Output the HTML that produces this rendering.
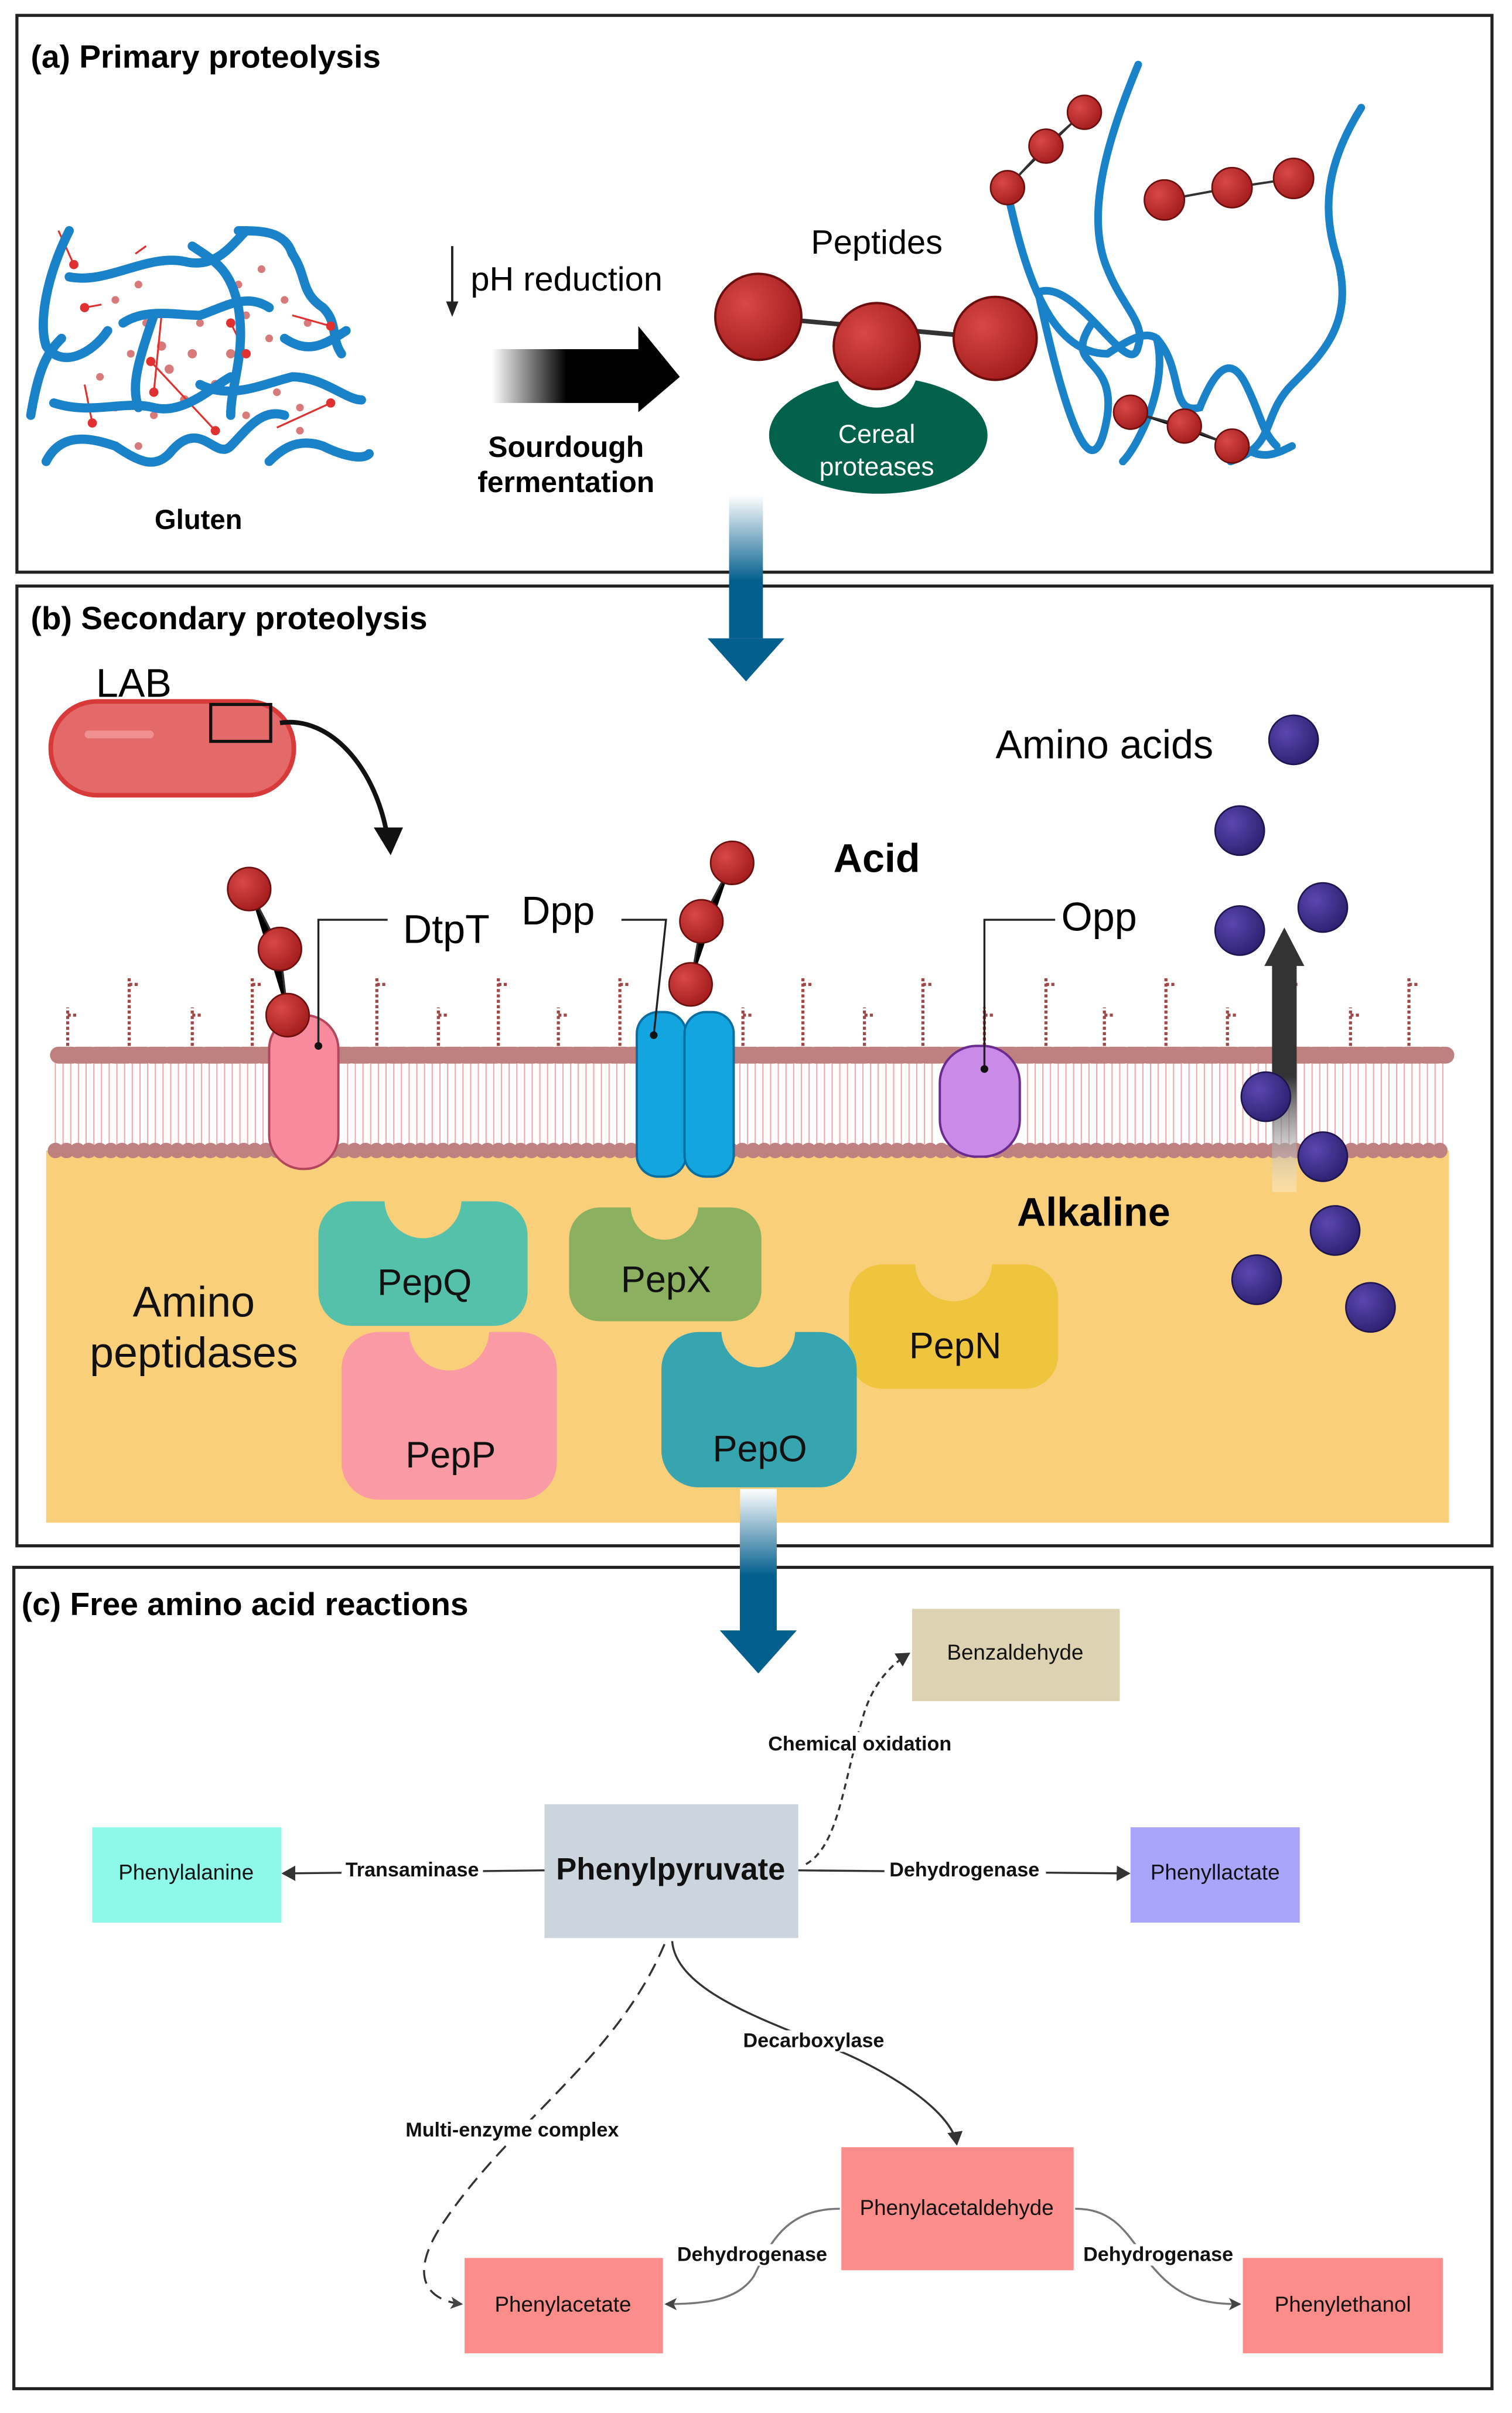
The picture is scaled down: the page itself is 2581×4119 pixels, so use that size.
<!DOCTYPE html>
<html><head><meta charset="utf-8"><style>html,body{margin:0;padding:0;background:#fff}svg{display:block}text{font-family:"Liberation Sans",sans-serif}</style></head><body>
<svg width="2581" height="4119" viewBox="0 0 983 1568.8" preserveAspectRatio="none" xmlns="http://www.w3.org/2000/svg">
<defs>
<linearGradient id="gh" x1="0" x2="1"><stop offset="0" stop-color="#fff"/><stop offset="0.5" stop-color="#000"/><stop offset="1" stop-color="#000"/></linearGradient>
<linearGradient id="gv" x1="0" y1="0" x2="0" y2="1"><stop offset="0" stop-color="#fff"/><stop offset="0.6" stop-color="#035f8e"/><stop offset="1" stop-color="#035f8e"/></linearGradient>
<linearGradient id="gu" x1="0" y1="1" x2="0" y2="0"><stop offset="0" stop-color="#fff" stop-opacity="0.3"/><stop offset="0.5" stop-color="#333"/><stop offset="1" stop-color="#333"/></linearGradient>
<radialGradient id="rb" cx="0.35" cy="0.35" r="0.7"><stop offset="0" stop-color="#d84848"/><stop offset="1" stop-color="#a41c1c"/></radialGradient>
<radialGradient id="pb" cx="0.35" cy="0.35" r="0.7"><stop offset="0" stop-color="#5a47b0"/><stop offset="1" stop-color="#2d2070"/></radialGradient>
<marker id="ah" markerWidth="10" markerHeight="10" refX="8" refY="5" orient="auto" markerUnits="userSpaceOnUse"><path d="M0,0 L9,5 L0,10 z" fill="#333"/></marker>
<marker id="ah2" markerWidth="8" markerHeight="8" refX="7" refY="4" orient="auto" markerUnits="userSpaceOnUse"><path d="M0,0 L8,4 L0,8 L2,4 z" fill="#444"/></marker>
</defs>
<rect x="11" y="10" width="959" height="362" fill="none" stroke="#222" stroke-width="2"/>
<rect x="11" y="381" width="959" height="624" fill="none" stroke="#222" stroke-width="2"/>
<rect x="9" y="1019" width="961" height="534" fill="none" stroke="#222" stroke-width="2"/>
<text x="20" y="44" font-size="21" font-weight="bold">(a) Primary proteolysis</text>
<text x="20" y="409" font-size="21" font-weight="bold">(b) Secondary proteolysis</text>
<text x="14" y="1050" font-size="21" font-weight="bold">(c) Free amino acid reactions</text>

<g fill="#d97a7a">
<circle cx="60" cy="180" r="2.5"/><circle cx="75" cy="195" r="2.5"/><circle cx="90" cy="185" r="2.5"/><circle cx="70" cy="215" r="2.5"/><circle cx="85" cy="230" r="2.5"/><circle cx="110" cy="240" r="3"/><circle cx="125" cy="230" r="3"/><circle cx="140" cy="250" r="3"/><circle cx="120" cy="260" r="3"/><circle cx="100" cy="270" r="2.5"/><circle cx="75" cy="265" r="2.5"/><circle cx="155" cy="185" r="2.5"/><circle cx="170" cy="175" r="2.5"/><circle cx="185" cy="195" r="2.5"/><circle cx="200" cy="210" r="2.5"/><circle cx="175" cy="220" r="2.5"/><circle cx="160" cy="205" r="2.5"/><circle cx="180" cy="255" r="2.5"/><circle cx="195" cy="265" r="2.5"/><circle cx="210" cy="250" r="2.5"/><circle cx="140" cy="280" r="2.5"/><circle cx="160" cy="270" r="2.5"/><circle cx="95" cy="210" r="2.5"/><circle cx="130" cy="210" r="2.5"/><circle cx="65" cy="245" r="2.5"/><circle cx="90" cy="290" r="2.5"/><circle cx="150" cy="230" r="3"/><circle cx="105" cy="225" r="3"/><circle cx="195" cy="280" r="2.5"/>
</g>
<g stroke="#e03030" stroke-width="1.2" fill="none">
<path d="M38,150 L48,172 M95,160 L88,165 M66,198 L55,200 M60,275 L55,250 M140,280 L98,235 M150,210 L160,230 M190,205 L215,212 M180,278 L215,262 M105,205 L100,255"/>
</g>
<g stroke="#1a82c8" stroke-width="6" fill="none" stroke-linecap="round">
<path d="M45,150 C30,180 25,210 30,225 C40,240 60,230 70,215"/>
<path d="M20,270 C25,240 30,230 40,220"/>
<path d="M45,180 C70,185 95,165 120,170 C140,175 150,160 160,150"/>
<path d="M125,160 C140,170 150,175 155,200 C160,230 150,250 150,270"/>
<path d="M35,262 C60,270 80,260 100,265 C120,270 140,250 150,245"/>
<path d="M30,300 C40,280 60,285 75,290 C90,300 100,305 110,295 C130,270 140,300 150,290 C160,280 170,265 185,270"/>
<path d="M80,210 C95,200 115,205 130,205 C145,200 160,190 175,200"/>
<path d="M155,150 C170,150 185,150 190,165 C200,180 195,190 210,200 C220,210 215,220 222,230"/>
<path d="M130,250 C150,260 170,250 190,245 C210,245 225,260 235,260"/>
<path d="M185,220 C200,230 210,225 225,215"/>
<path d="M175,300 C185,290 195,285 210,290 C220,295 235,300 240,295"/>
<path d="M100,205 C90,235 85,250 90,265"/>
</g>
<g fill="#e03030"><circle cx="48" cy="172" r="3"/><circle cx="55" cy="200" r="3"/><circle cx="98" cy="235" r="3"/><circle cx="150" cy="210" r="3"/><circle cx="215" cy="212" r="3"/><circle cx="215" cy="262" r="3"/><circle cx="60" cy="275" r="3"/><circle cx="140" cy="280" r="3"/><circle cx="100" cy="255" r="3"/><circle cx="160" cy="230" r="3"/></g>
<text x="129" y="344" font-size="18" font-weight="bold" text-anchor="middle">Gluten</text>

<line x1="294" y1="160" x2="294" y2="198" stroke="#222" stroke-width="1.5"/>
<path d="M290,196 L298,196 L294,206 z" fill="#222"/>
<text x="306" y="189" font-size="22">pH reduction</text>
<rect x="320" y="227" width="97" height="35" fill="url(#gh)"/>
<path d="M415,212 L442,245 L415,268 z" fill="#000"/>
<text x="368" y="297" font-size="19" font-weight="bold" text-anchor="middle">Sourdough</text>
<text x="368" y="320" font-size="19" font-weight="bold" text-anchor="middle">fermentation</text>

<text x="570" y="165" font-size="22" text-anchor="middle">Peptides</text>
<ellipse cx="571" cy="283" rx="71" ry="38" fill="#02614b"/>
<circle cx="570" cy="238" r="27" fill="#fff"/>
<line x1="493" y1="206" x2="647" y2="220" stroke="#333" stroke-width="3"/>
<circle cx="493" cy="206" r="28" fill="url(#rb)" stroke="#6b0e0e" stroke-width="1.5"/>
<circle cx="570" cy="225" r="28" fill="url(#rb)" stroke="#6b0e0e" stroke-width="1.5"/>
<circle cx="647" cy="220" r="27" fill="url(#rb)" stroke="#6b0e0e" stroke-width="1.5"/>
<text x="570" y="288" font-size="17" fill="#fff" text-anchor="middle">Cereal</text>
<text x="570" y="309" font-size="17" fill="#fff" text-anchor="middle">proteases</text>

<g stroke="#1a82c8" stroke-width="5" fill="none" stroke-linecap="round">
<path d="M740,42 C720,90 705,140 720,175 C730,200 745,210 740,225 C735,250 700,180 675,190 C690,260 710,330 720,270 C725,230 690,240 710,210"/>
<path d="M655,125 C665,170 680,230 720,230"/>
<path d="M720,230 C735,220 745,215 752,220 C760,250 740,290 730,300"/>
<path d="M885,70 C860,110 860,140 870,170 C880,210 860,230 840,250 C820,270 830,290 800,300"/>
<path d="M752,220 C770,240 760,270 780,265 C790,240 800,230 810,250 C820,270 820,280 830,290"/>
<path d="M808,290 C820,300 830,295 840,290"/>
</g>
<g stroke="#333" stroke-width="1.5"><path d="M705,73 L680,95 L655,122 M757,130 L801,122 L841,116 M735,268 L770,277 L801,290"/></g>
<g fill="url(#rb)" stroke="#6b0e0e" stroke-width="1"><circle cx="705" cy="73" r="11"/><circle cx="680" cy="95" r="11"/><circle cx="655" cy="122" r="11"/><circle cx="757" cy="130" r="13"/><circle cx="801" cy="122" r="13"/><circle cx="841" cy="116" r="13"/><circle cx="735" cy="268" r="11"/><circle cx="770" cy="277" r="11"/><circle cx="801" cy="290" r="11"/></g>

<rect x="474" y="322" width="22" height="93" fill="url(#gv)"/>
<path d="M460,415 L510,415 L485,443 z" fill="#035f8e"/>

<text x="87" y="453" font-size="26" text-anchor="middle">LAB</text>
<rect x="33" y="456" width="158" height="61" rx="30" fill="#e46a6a" stroke="#d83a3a" stroke-width="3"/>
<rect x="55" y="475" width="45" height="5" rx="2.5" fill="#f19090"/>
<rect x="137" y="458" width="39" height="24" fill="none" stroke="#111" stroke-width="2"/>
<path d="M182,470 C215,465 245,500 252,545" stroke="#111" stroke-width="3" fill="none"/>
<path d="M243,538 L262,538 L254,556 z" fill="#111"/>

<rect x="30" y="748" width="912" height="242" fill="#f9cf7a"/>
<g stroke="#f0a9ae" stroke-width="0.8" fill="none">
<path d="M36,690 V745 M41,690 V745 M46,690 V745 M51,690 V745 M56,690 V745 M61,690 V745 M66,690 V745 M71,690 V745 M76,690 V745 M81,690 V745 M86,690 V745 M91,690 V745 M96,690 V745 M101,690 V745 M106,690 V745 M111,690 V745 M116,690 V745 M121,690 V745 M126,690 V745 M131,690 V745 M136,690 V745 M141,690 V745 M146,690 V745 M151,690 V745 M156,690 V745 M161,690 V745 M166,690 V745 M171,690 V745 M226,690 V745 M231,690 V745 M236,690 V745 M241,690 V745 M246,690 V745 M251,690 V745 M256,690 V745 M261,690 V745 M266,690 V745 M271,690 V745 M276,690 V745 M281,690 V745 M286,690 V745 M291,690 V745 M296,690 V745 M301,690 V745 M306,690 V745 M311,690 V745 M316,690 V745 M321,690 V745 M326,690 V745 M331,690 V745 M336,690 V745 M341,690 V745 M346,690 V745 M351,690 V745 M356,690 V745 M361,690 V745 M366,690 V745 M371,690 V745 M376,690 V745 M381,690 V745 M386,690 V745 M391,690 V745 M396,690 V745 M401,690 V745 M406,690 V745 M481,690 V745 M486,690 V745 M491,690 V745 M496,690 V745 M501,690 V745 M506,690 V745 M511,690 V745 M516,690 V745 M521,690 V745 M526,690 V745 M531,690 V745 M536,690 V745 M541,690 V745 M546,690 V745 M551,690 V745 M556,690 V745 M561,690 V745 M566,690 V745 M571,690 V745 M576,690 V745 M581,690 V745 M586,690 V745 M591,690 V745 M596,690 V745 M601,690 V745 M606,690 V745 M668,690 V745 M673,690 V745 M678,690 V745 M683,690 V745 M688,690 V745 M693,690 V745 M698,690 V745 M703,690 V745 M708,690 V745 M713,690 V745 M718,690 V745 M723,690 V745 M728,690 V745 M733,690 V745 M738,690 V745 M743,690 V745 M748,690 V745 M753,690 V745 M758,690 V745 M763,690 V745 M768,690 V745 M773,690 V745 M778,690 V745 M783,690 V745 M788,690 V745 M793,690 V745 M798,690 V745 M803,690 V745 M808,690 V745 M813,690 V745 M818,690 V745 M823,690 V745 M828,690 V745 M833,690 V745 M838,690 V745 M843,690 V745 M848,690 V745 M853,690 V745 M858,690 V745 M863,690 V745 M868,690 V745 M873,690 V745 M878,690 V745 M883,690 V745 M888,690 V745 M893,690 V745 M898,690 V745 M903,690 V745 M908,690 V745 M913,690 V745 M918,690 V745 M923,690 V745 M928,690 V745 M933,690 V745 M938,690 V745"/>
</g>
<line x1="38" y1="686" x2="940" y2="686" stroke="#bf8080" stroke-width="11" stroke-linecap="round" stroke-dasharray="9 3"/>
<line x1="36" y1="748" x2="940" y2="748" stroke="#bf8080" stroke-width="10" stroke-linecap="round" stroke-dasharray="0.1 7.1"/>
<g stroke="#a04848" stroke-width="2" stroke-dasharray="2 1.5" fill="none">
<path d="M44,680 V655 M84,680 V635 M125,680 V655 M164,680 V635 M245,680 V635 M285,680 V655 M324,680 V635 M363,680 V655 M403,680 V635 M483,680 V655 M522,680 V635 M562,680 V655 M600,680 V635 M640,680 V655 M680,680 V635 M718,680 V655 M758,680 V635 M798,680 V655 M838,680 V635 M878,680 V655 M916,680 V635"/>
<path d="M44,660 h6 M84,640 h6 M125,660 h6 M164,640 h6 M245,640 h6 M285,660 h6 M324,640 h6 M363,660 h6 M403,640 h6 M483,660 h6 M522,640 h6 M562,660 h6 M600,640 h6 M640,660 h6 M680,640 h6 M718,660 h6 M758,640 h6 M798,660 h6 M838,640 h6 M878,660 h6 M916,640 h6"/>
</g>
<rect x="175" y="660" width="45" height="100" rx="22" fill="#f78a9c" stroke="#b3455c" stroke-width="1.5"/>
<rect x="414" y="658" width="32" height="107" rx="14" fill="#12a5e0" stroke="#0a6fa0" stroke-width="1.5"/>
<rect x="445" y="658" width="32" height="107" rx="14" fill="#12a5e0" stroke="#0a6fa0" stroke-width="1.5"/>
<rect x="611" y="680" width="52" height="72" rx="24" fill="#c98ae8" stroke="#6a2a90" stroke-width="1.5"/>
<g stroke="#222" stroke-width="1.3" fill="none">
<path d="M207,680 V598 H252"/><path d="M425,673 L433,598 H404"/><path d="M640,695 V598 H686"/>
</g>
<circle cx="207" cy="680" r="2.5" fill="#111"/><circle cx="425" cy="673" r="2.5" fill="#111"/><circle cx="640" cy="695" r="2.5" fill="#111"/>
<g stroke="#333" stroke-width="1.3"><path d="M162,578 L182,617 L187,660 M476,561 L456,599 L449,640"/></g>
<g fill="url(#rb)" stroke="#6b0e0e" stroke-width="1"><circle cx="162" cy="578" r="14"/><circle cx="182" cy="617" r="14"/><circle cx="187" cy="660" r="14"/><circle cx="476" cy="561" r="14"/><circle cx="456" cy="599" r="14"/><circle cx="449" cy="640" r="14"/></g>
<text x="262" y="613" font-size="26">DtpT</text>
<text x="339" y="601" font-size="26">Dpp</text>
<text x="690" y="605" font-size="26">Opp</text>
<text x="570" y="567" font-size="26" font-weight="bold" text-anchor="middle">Acid</text>
<text x="711" y="797" font-size="26" font-weight="bold" text-anchor="middle">Alkaline</text>
<text x="718" y="493" font-size="26" text-anchor="middle">Amino acids</text>
<rect x="827" y="625" width="16" height="150" fill="url(#gu)"/>
<path d="M822,628 L848,628 L835,603 z" fill="#333"/>
<g fill="url(#pb)" stroke="#1e1550" stroke-width="1"><circle cx="841" cy="481" r="16"/><circle cx="806" cy="540" r="16"/><circle cx="860" cy="590" r="16"/><circle cx="806" cy="605" r="16"/><circle cx="823" cy="713" r="16"/><circle cx="860" cy="752" r="16"/><circle cx="868" cy="800" r="16"/><circle cx="817" cy="832" r="16"/><circle cx="891" cy="850" r="16"/></g>
<g>
<rect x="207" y="781" width="136" height="81" rx="22" fill="#56c1ab"/><path d="M250,780 A25,25 0 0 0 300,780 Z" fill="#f9cf7a"/>
<rect x="370" y="785" width="125" height="74" rx="20" fill="#8bb060"/><path d="M410,784 A22,22 0 0 0 454,784 Z" fill="#f9cf7a"/>
<rect x="552" y="822" width="136" height="81" rx="22" fill="#f0c53e"/><path d="M595,821 A25,25 0 0 0 645,821 Z" fill="#f9cf7a"/>
<rect x="222" y="866" width="140" height="109" rx="24" fill="#fa9aa5"/><path d="M266,865 A26,26 0 0 0 318,865 Z" fill="#f9cf7a"/>
<rect x="430" y="866" width="127" height="101" rx="24" fill="#36a5b0"/><path d="M469,865 A24,24 0 0 0 517,865 Z" fill="#f9cf7a"/>
</g>
<g font-size="24" text-anchor="middle" fill="#111">
<text x="276" y="842">PepQ</text><text x="433" y="840">PepX</text><text x="621" y="883">PepN</text><text x="293" y="954">PepP</text><text x="494" y="950">PepO</text>
<text x="126" y="856" font-size="28">Amino</text><text x="126" y="889" font-size="28">peptidases</text>
</g>
<rect x="481" y="968" width="24" height="94" fill="url(#gv)"/>
<path d="M468,1060 L518,1060 L493,1088 z" fill="#035f8e"/>

<g font-size="14" text-anchor="middle" fill="#111">
<rect x="593" y="1046" width="135" height="60" fill="#ddd3b3"/><text x="660" y="1079">Benzaldehyde</text>
<rect x="354" y="1173" width="165" height="87" fill="#ccd5dd"/><text x="436" y="1222" font-size="20" font-weight="bold">Phenylpyruvate</text>
<rect x="60" y="1188" width="123" height="62" fill="#8ff9e9"/><text x="121" y="1222">Phenylalanine</text>
<rect x="735" y="1188" width="110" height="62" fill="#a9a5fa"/><text x="790" y="1222">Phenyllactate</text>
<rect x="547" y="1396" width="151" height="80" fill="#fc8d8a"/><text x="622" y="1440">Phenylacetaldehyde</text>
<rect x="302" y="1468" width="129" height="62" fill="#fc8d8a"/><text x="366" y="1503">Phenylacetate</text>
<rect x="808" y="1468" width="130" height="62" fill="#fc8d8a"/><text x="873" y="1503">Phenylethanol</text>
</g>
<g stroke="#333" stroke-width="1.3" fill="none">
<path d="M354,1216 L184,1218" marker-end="url(#ah)"/>
<path d="M519,1216 L734,1218" marker-end="url(#ah)"/>
<path d="M524,1212 C545,1200 548,1160 560,1120 C565,1100 575,1085 591,1075" stroke-dasharray="4 3" marker-end="url(#ah)"/>
<path d="M437,1262 C440,1300 520,1320 560,1340 C600,1360 620,1380 622,1394" marker-end="url(#ah)"/>
<path d="M432,1264 C400,1340 330,1380 285,1450 C268,1478 275,1495 300,1498" stroke-dasharray="9 5" marker-end="url(#ah2)"/>
<path d="M546,1436 C510,1436 500,1460 490,1480 C480,1495 460,1498 433,1498" stroke="#777" marker-end="url(#ah2)"/>
<path d="M699,1436 C730,1436 735,1460 755,1480 C770,1495 785,1498 806,1498" stroke="#777" marker-end="url(#ah2)"/>
</g>
<g font-size="13" font-weight="bold" text-anchor="middle" fill="#111">
<rect x="222" y="1208" width="92" height="14" fill="#fff"/><text x="268" y="1220">Transaminase</text>
<rect x="575" y="1208" width="105" height="14" fill="#fff"/><text x="627" y="1220">Dehydrogenase</text>
<rect x="495" y="1126" width="128" height="14" fill="#fff"/><text x="559" y="1138">Chemical oxidation</text>
<rect x="480" y="1320" width="98" height="14" fill="#fff"/><text x="529" y="1331">Decarboxylase</text>
<rect x="258" y="1378" width="150" height="14" fill="#fff"/><text x="333" y="1389">Multi-enzyme complex</text>
<rect x="436" y="1459" width="106" height="14" fill="#fff"/><text x="489" y="1470">Dehydrogenase</text>
<rect x="700" y="1459" width="106" height="14" fill="#fff"/><text x="753" y="1470">Dehydrogenase</text>
</g>
</svg>
</body></html>
